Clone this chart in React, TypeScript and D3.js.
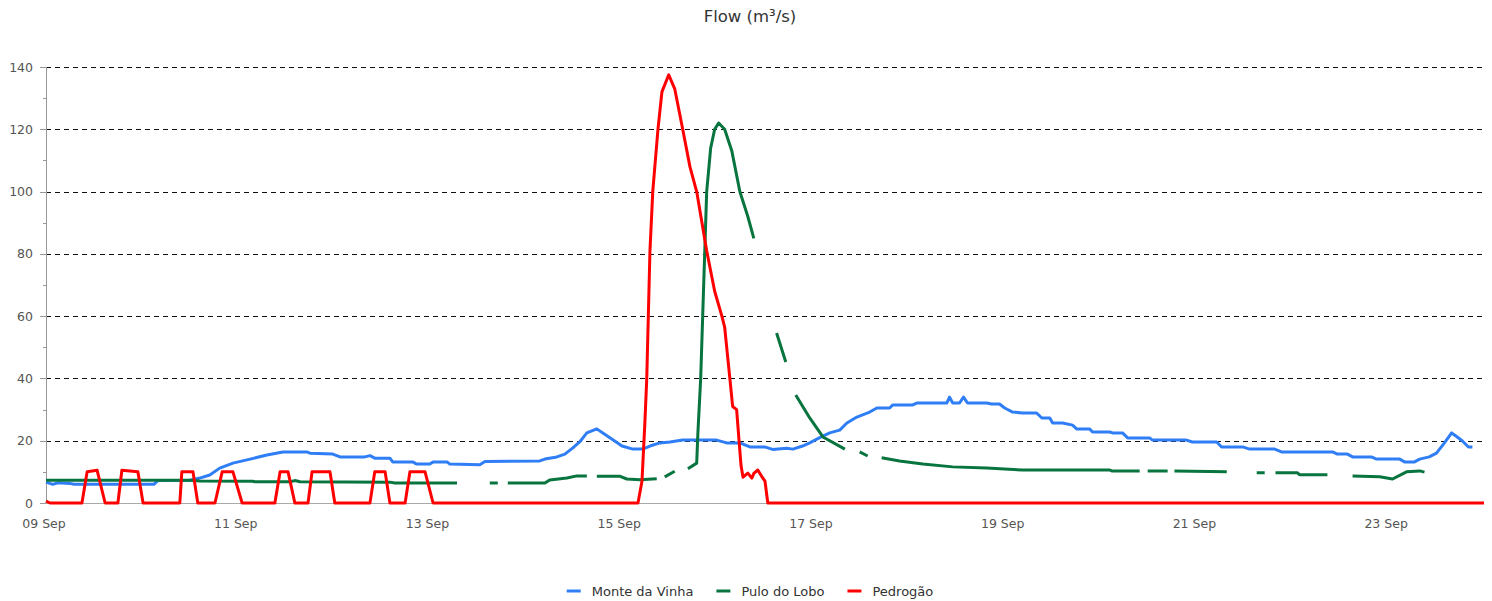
import React, { useEffect, useRef } from 'react';
import * as d3 from 'd3';

// [hours since 09 Sep 00:00, flow m³/s] — null marks a gap in the record
type Pt = [number, number | null];

const startDate = new Date(2024, 8, 9);
const spanDays = 15;
const yTicks = [0, 20, 40, 60, 80, 100, 120, 140];
const yMinorTicks = [10, 30, 50, 70, 90, 110, 130];
const xTickDays = [0, 2, 4, 6, 8, 10, 12, 14];

const monteDaVinha: Pt[] = [
  [0, 6.7], [1.7, 6.0], [3, 6.5], [6, 6.3], [7, 6.0], [27, 6.0], [28, 7.2], [36, 7.3],
  [38.5, 8], [41, 9], [43.5, 11.2], [46.8, 12.8], [51.1, 14.1], [55.3, 15.4], [59.3, 16.4],
  [65.3, 16.4], [66.1, 16], [71.8, 15.7], [73.6, 14.8], [79.8, 14.8], [81.1, 15.2], [82.3, 14.4],
  [86.1, 14.4], [86.8, 13.2], [91.8, 13.2], [92.8, 12.5], [96.1, 12.5], [96.9, 13.2], [100.4, 13.2],
  [101.1, 12.5], [108.6, 12.3], [109.9, 13.3], [123.6, 13.5], [124.9, 14.1], [127.9, 14.8],
  [129.9, 15.7], [131.9, 17.7], [133.6, 19.6], [135.4, 22.5], [137.9, 23.8], [139.4, 22.5],
  [142, 20.2], [144.2, 18.3], [146.9, 17.3], [149.4, 17.3], [151.2, 18.3], [153.7, 19.3],
  [156.2, 19.6], [159.4, 20.2], [167.9, 20.2], [170.4, 19.3], [173.7, 19.3], [176.2, 18],
  [179.9, 18], [181.9, 17.2], [185.4, 17.6], [187, 17.3], [189.4, 18.3], [191.2, 19.3],
  [193.7, 21], [196.2, 22.5], [198.7, 23.4], [200.5, 25.7], [203, 27.6], [206.2, 29.2],
  [208, 30.5], [211.2, 30.5], [212, 31.5], [217, 31.5], [218, 32.1], [225.5, 32.1], [226.2, 34],
  [227, 32.1], [228.7, 32.1], [229.7, 34], [230.7, 32.1], [235.5, 32.1], [236.7, 31.8],
  [238.7, 31.8], [240, 30.5], [242, 29.2], [244.5, 28.9], [248, 28.9], [249.3, 27.3],
  [251.3, 27.3], [252, 25.7], [254.5, 25.7], [257, 25], [258, 23.8], [261.3, 23.8], [262, 22.8],
  [266.3, 22.8], [267, 22.5], [269.5, 22.5], [270.8, 20.9], [276.3, 20.9], [277, 20.2],
  [285.5, 20.2], [287, 19.6], [293.1, 19.6], [294.3, 18], [299.6, 18], [301.3, 17.3],
  [307.6, 17.3], [309.3, 16.4], [322.1, 16.4], [323.3, 15.7], [325.8, 15.7], [327.1, 14.8],
  [331.8, 14.8], [333.1, 14.1], [338.9, 14.1], [340.1, 13.2], [342.6, 13.2], [343.9, 14.1],
  [346.3, 14.8], [348.1, 16], [350.1, 19.3], [351.9, 22.5], [353.3, 21.2], [354.6, 19.9],
  [356.1, 18], [357.1, 18],
];

const puloDoLobo: Pt[] = [
  [0, 7.3], [36, 7.3], [38.5, 7.1], [51.8, 7.0], [52.3, 6.8], [61.1, 6.8], [62.3, 7.2],
  [63.6, 6.8], [86.1, 6.7], [87.3, 6.4], [102.9, 6.4], [104, null],
  [111.1, 6.4], [113.1, 6.4], [114, null],
  [115.6, 6.4], [124.9, 6.4], [126.1, 7.4], [130.4, 8], [132.9, 8.7], [135.4, 8.7], [136, null],
  [137.9, 8.6], [143.6, 8.6], [145.4, 7.7], [148.7, 7.5], [152.9, 7.8], [154, null],
  [154.9, 8.4], [157.4, 10.2], [158, null],
  [160.7, 11], [162.9, 12.8], [163.2, 22.5], [163.9, 40], [164.4, 60], [164.9, 80],
  [165.4, 100], [166.4, 114], [167.4, 120], [168.4, 122], [169.9, 120], [171.7, 113],
  [173.7, 100], [175.7, 92], [177.2, 85], [178, null],
  [182.9, 54.6], [185.2, 45.3], [186, null],
  [187.7, 34.7], [191.2, 27.3], [194.5, 21.2], [200, 17.3], [201, null],
  [203.7, 16.4], [205.7, 15.1], [206.5, null],
  [209.2, 14.5], [213.7, 13.5], [219.5, 12.5], [227, 11.6], [235.5, 11.2], [244.5, 10.6],
  [266.3, 10.6], [266.8, 10.3], [273.8, 10.3], [274.5, null],
  [275.8, 10.3], [280.8, 10.3], [281.5, null],
  [282.5, 10.3], [295.6, 10.0], [297, null],
  [303.1, 9.7], [305.1, 9.7], [306, null],
  [307.8, 9.7], [313.3, 9.7], [313.8, 9.1], [320.8, 9.1], [322, null],
  [327.1, 8.7], [333.9, 8.4], [337.1, 7.7], [340.6, 10], [343.9, 10.3], [345.1, 9.9],
];

const pedrogao: Pt[] = [
  [0, 0.6], [1, 0], [9, 0], [10.3, 10], [12.8, 10.5], [14.8, 0], [18, 0], [19, 10.5], [23, 10],
  [24.3, 0], [33.5, 0], [34, 10], [36.8, 10], [38, 0], [42.3, 0], [44.1, 10], [46.8, 10],
  [49.1, 0], [57.3, 0], [58.6, 10], [60.6, 10], [62.3, 0], [65.6, 0], [66.6, 10], [71.1, 10],
  [72.3, 0], [81.1, 0], [82.3, 10], [84.9, 10], [86.1, 0], [89.9, 0], [91.1, 10], [94.9, 10],
  [96.9, 0], [148.2, 0], [149.2, 7], [149.9, 25], [150.4, 40], [151.2, 81], [151.9, 100],
  [153.2, 120], [154.2, 132], [155.9, 137.5], [157.4, 133], [159.4, 120], [161.2, 108],
  [162.9, 100], [165.4, 81], [167.4, 68], [169.2, 60], [169.9, 56.5], [171.2, 40], [171.9, 31],
  [172.9, 30], [173.5, 20], [174, 12], [174.5, 8.3], [175.7, 9.6], [176.7, 8], [177.2, 9.5],
  [178.2, 10.6], [179.2, 8.5], [180, 7], [180.7, 0], [360, 0],
];

const seriesNames = ['Monte da Vinha', 'Pulo do Lobo', 'Pedrogão'];
const seriesColors = ['#2f7ef6', '#08743e', '#ff0000'];
const seriesData = [monteDaVinha, puloDoLobo, pedrogao];

const FONT = '"DejaVu Sans", Verdana, sans-serif';

const App: React.FC = () => {
  const svgRef = useRef<SVGSVGElement>(null);

  useEffect(() => {
    if (!svgRef.current) return;
    const width = 1492;
    const height = 601;
    const margin = { top: 67, right: 8, bottom: 98, left: 46 };

    const svg = d3.select(svgRef.current);
    svg.selectAll('*').remove();

    const hourToDate = (h: number) => new Date(startDate.getTime() + h * 3600 * 1000);

    const x = d3.scaleTime()
      .domain([startDate, d3.timeDay.offset(startDate, spanDays)])
      .range([margin.left, width - margin.right]);

    const y = d3.scaleLinear()
      .domain([0, 140])
      .range([height - margin.bottom, margin.top]);

    // title
    svg.append('text')
      .attr('x', width / 2 + 4)
      .attr('y', 22)
      .attr('text-anchor', 'middle')
      .attr('font-family', FONT)
      .attr('font-size', 16.5)
      .attr('fill', '#333')
      .text('Flow (m³/s)');

    // grid
    svg.append('g')
      .selectAll('line')
      .data(yTicks.filter(d => d > 0))
      .join('line')
      .attr('x1', margin.left)
      .attr('x2', width - margin.right)
      .attr('y1', d => Math.round(y(d)) + 0.5)
      .attr('y2', d => Math.round(y(d)) + 0.5)
      .attr('stroke', '#111')
      .attr('stroke-dasharray', '5,4');

    // y axis
    const yAxis = svg.append('g');
    yAxis.append('line')
      .attr('x1', margin.left + 0.5).attr('x2', margin.left + 0.5)
      .attr('y1', y(140)).attr('y2', y(0))
      .attr('stroke', '#999');
    yAxis.selectAll('line.major')
      .data(yTicks)
      .join('line')
      .attr('class', 'major')
      .attr('x1', margin.left - 6).attr('x2', margin.left)
      .attr('y1', d => Math.round(y(d)) + 0.5).attr('y2', d => Math.round(y(d)) + 0.5)
      .attr('stroke', '#999');
    yAxis.selectAll('line.minor')
      .data(yMinorTicks)
      .join('line')
      .attr('class', 'minor')
      .attr('x1', margin.left - 3).attr('x2', margin.left)
      .attr('y1', d => Math.round(y(d)) + 0.5).attr('y2', d => Math.round(y(d)) + 0.5)
      .attr('stroke', '#999');
    yAxis.selectAll('text')
      .data(yTicks)
      .join('text')
      .attr('x', margin.left - 13)
      .attr('y', d => y(d) + 4.5)
      .attr('text-anchor', 'end')
      .attr('font-family', FONT)
      .attr('font-size', 12.5)
      .attr('fill', '#555')
      .text(d => d);

    // x axis
    const fmt = d3.timeFormat('%d %b');
    const xAxis = svg.append('g');
    xAxis.append('line')
      .attr('x1', margin.left).attr('x2', width - margin.right)
      .attr('y1', Math.round(y(0)) + 0.5).attr('y2', Math.round(y(0)) + 0.5)
      .attr('stroke', '#aaa');
    xAxis.selectAll('text')
      .data(xTickDays.map(d => d3.timeDay.offset(startDate, d)))
      .join('text')
      .attr('x', d => x(d) - 2)
      .attr('y', height - margin.bottom + 25)
      .attr('text-anchor', 'middle')
      .attr('font-family', FONT)
      .attr('font-size', 12.5)
      .attr('fill', '#555')
      .text(d => fmt(d));

    // series
    const line = d3.line<Pt>()
      .defined(d => d[1] !== null)
      .x(d => x(hourToDate(d[0])))
      .y(d => y(d[1] as number));

    seriesData.forEach((data, i) => {
      svg.append('path')
        .datum(data)
        .attr('fill', 'none')
        .attr('stroke', seriesColors[i])
        .attr('stroke-width', 3)
        .attr('stroke-linejoin', 'round')
        .attr('d', line);
    });

    // legend
    const legend = svg.append('g');
    const items = seriesNames.map((name, i) => {
      const g = legend.append('g');
      g.append('line')
        .attr('x1', 0).attr('x2', 14)
        .attr('y1', 0).attr('y2', 0)
        .attr('stroke', seriesColors[i])
        .attr('stroke-width', 3);
      const t = g.append('text')
        .attr('x', 25)
        .attr('y', 4.5)
        .attr('font-family', FONT)
        .attr('font-size', 13)
        .attr('fill', '#333')
        .text(name);
      const w = 25 + (t.node() as SVGTextElement).getComputedTextLength();
      return { g, w };
    });
    const gap = 23;
    const total = d3.sum(items, d => d.w) + gap * (items.length - 1);
    let cx = width / 2 - total / 2 + 4;
    items.forEach(it => {
      it.g.attr('transform', `translate(${cx},591)`);
      cx += it.w + gap;
    });
  }, []);

  return (
    <svg
      ref={svgRef}
      width={1492}
      height={601}
      style={{ position: 'absolute', left: 0, top: 0, background: '#fff' }}
    />
  );
};

export default App;
